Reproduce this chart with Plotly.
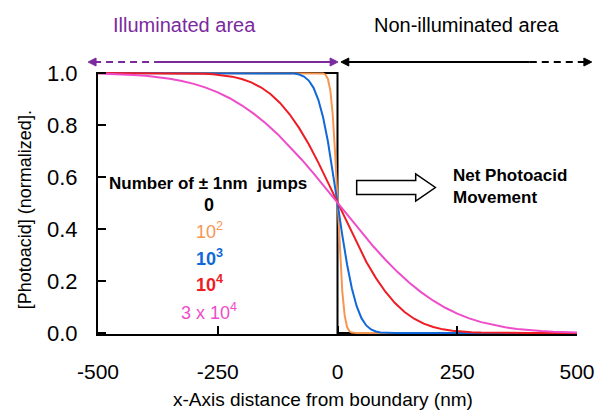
import plotly.graph_objects as go

# ---------------- data ----------------
step_x = [-500, 0, 0, 500]
step_y = [1.0, 1.0, 0.0, 0.0]

orange_x = [-500, -40, -30, -25, -20, -15, -10, -5, 0, 5, 10, 15, 20, 25, 30, 40, 500]
orange_y = [1.0, 1.0, 0.9987, 0.9938, 0.9772, 0.9332, 0.8413, 0.6915, 0.5,
            0.3085, 0.1587, 0.0668, 0.0228, 0.0062, 0.0013, 0.0, 0.0]

blue_x = [-500, -150, -120, -100, -90, -80, -70, -60, -50, -40, -30, -20, -10, 0,
          10, 20, 30, 40, 50, 60, 70, 80, 90, 100, 120, 150, 500]
blue_y = [1.0, 1.0, 0.9999, 0.9992, 0.9978, 0.9943, 0.9866, 0.9711, 0.9431, 0.8970,
          0.8286, 0.7365, 0.6241, 0.5,
          0.3759, 0.2635, 0.1714, 0.1030, 0.0569, 0.0289, 0.0134, 0.0057, 0.0022,
          0.0008, 0.0001, 0.0, 0.0]

red_x = [-500, -400, -340, -300, -280, -260, -240, -220, -200, -180, -160, -140, -120,
         -100, -80, -60, -40, -20, 0, 20, 40, 60, 80, 100, 120, 140, 160, 180, 200,
         220, 240, 260, 280, 300, 340, 400, 500]
red_y = [1.0, 1.0, 0.9997, 0.9987, 0.9974, 0.9953, 0.9918, 0.9861, 0.9772, 0.9641,
         0.9452, 0.9192, 0.8849, 0.8413, 0.7881, 0.7257, 0.6554, 0.5793, 0.5,
         0.4207, 0.3446, 0.2743, 0.2119, 0.1587, 0.1151, 0.0808, 0.0548, 0.0359,
         0.0228, 0.0139, 0.0082, 0.0047, 0.0026, 0.0013, 0.0003, 0.0, 0.0]

pink_x = [-500, -475, -450, -425, -400, -375, -350, -325, -300, -275, -250, -225,
          -200, -175, -150, -125, -100, -75, -50, -25, 0, 25, 50, 75, 100, 125, 150,
          175, 200, 225, 250, 275, 300, 325, 350, 375, 400, 425, 450, 475, 500]
pink_y = [0.9981, 0.9970, 0.9953, 0.9929, 0.9895, 0.9848, 0.9783, 0.9697, 0.9584,
          0.9438, 0.9255, 0.9030, 0.8759, 0.8438, 0.8068, 0.7648, 0.7181, 0.6675,
          0.6136, 0.5574, 0.5, 0.4426, 0.3864, 0.3325, 0.2819, 0.2352, 0.1932,
          0.1562, 0.1241, 0.0970, 0.0745, 0.0562, 0.0416, 0.0303, 0.0217, 0.0152,
          0.0105, 0.0071, 0.0047, 0.0030, 0.0019]

x_ticks = [-500, -250, 0, 250, 500]
y_ticks = [0.0, 0.2, 0.4, 0.6, 0.8, 1.0]

legend_title = "<b>Number of ± 1nm  jumps</b>"
legend_labels = ["<b>0</b>", "10<sup>2</sup>", "<b>10<sup>3</sup></b>",
                 "<b>10<sup>4</sup></b>", "3 x 10<sup>4</sup>"]

# ---------------- styling ----------------
BLACK = "#000000"
ORANGE = "#F79650"
BLUE = "#1168D8"
RED = "#EE1C24"
PINK = "#EE4CC8"
PURPLE = "#7B2A9E"
FONT = "Arial, Liberation Sans, sans-serif"
legend_colors = [BLACK, ORANGE, BLUE, RED, PINK]

OFF = 8  # page body margin in the browser
W, H = 599, 402
L, R, T, B = 90, 22, 64, 76
PW, PH = W - L - R, H - T - B


def px(x):
    """window pixel x -> paper x"""
    return (x - OFF - L) / PW


def py(y):
    """window pixel y -> paper y"""
    return (H - B - (y - OFF)) / PH


fig = go.Figure()
for xs, ys, c in [(step_x, step_y, BLACK), (orange_x, orange_y, ORANGE),
                  (blue_x, blue_y, BLUE), (red_x, red_y, RED), (pink_x, pink_y, PINK)]:
    fig.add_trace(go.Scatter(x=xs, y=ys, mode="lines",
                             line=dict(color=c, width=2), showlegend=False,
                             hoverinfo="skip"))

shapes = []
annotations = []

# top arrows
ya = py(62)
shapes.append(dict(type="line", xref="paper", yref="paper", x0=px(94), x1=px(155),
                   y0=ya, y1=ya, line=dict(color=PURPLE, width=2, dash="7px,5px")))
shapes.append(dict(type="line", xref="paper", yref="paper", x0=px(155), x1=px(336),
                   y0=ya, y1=ya, line=dict(color=PURPLE, width=2)))
shapes.append(dict(type="line", xref="paper", yref="paper", x0=px(350), x1=px(537),
                   y0=ya, y1=ya, line=dict(color=BLACK, width=2)))
shapes.append(dict(type="line", xref="paper", yref="paper", x0=px(537), x1=px(594),
                   y0=ya, y1=ya, line=dict(color=BLACK, width=2, dash="7px,5px")))


def tri(tip_x, tip_y, direction, color):
    back = tip_x - 8 * direction
    return dict(type="path", xref="paper", yref="paper",
                path=f"M {px(tip_x)} {py(tip_y)} L {px(back)} {py(tip_y - 4)} "
                     f"L {px(back)} {py(tip_y + 4)} Z",
                fillcolor=color, line=dict(color=color, width=1))


shapes.append(tri(88, 62, -1, PURPLE))
shapes.append(tri(342, 62, 1, PURPLE))
shapes.append(tri(345, 62, -1, BLACK))
shapes.append(tri(600, 62, 1, BLACK))

# block arrow (net movement)
pts = [(361, 180.5), (421, 180.5), (421, 174), (441, 187.5), (421, 201),
       (421, 194.5), (361, 194.5)]
path = "M " + " L ".join(f"{px(a)} {py(b)}" for a, b in pts) + " Z"
shapes.append(dict(type="path", xref="paper", yref="paper", path=path,
                   fillcolor="white", line=dict(color=BLACK, width=1.5)))

annotations.append(dict(text="Illuminated area", x=px(186), y=py(25), xref="paper",
                        yref="paper", showarrow=False, xanchor="center", yanchor="middle",
                        font=dict(family=FONT, size=20, color=PURPLE)))
annotations.append(dict(text="Non-illuminated area", x=px(473), y=py(25), xref="paper",
                        yref="paper", showarrow=False, xanchor="center", yanchor="middle",
                        font=dict(family=FONT, size=20, color=BLACK)))
annotations.append(dict(text="<b>Net Photoacid<br>Movement</b>", x=px(457), y=py(186),
                        xref="paper", yref="paper", showarrow=False, xanchor="left",
                        yanchor="middle", align="left",
                        font=dict(family=FONT, size=17, color=BLACK)))
annotations.append(dict(text=legend_title, x=px(210), y=py(183), xref="paper",
                        yref="paper", showarrow=False, xanchor="center", yanchor="middle",
                        font=dict(family=FONT, size=17, color=BLACK)))
for lab, c, yy in zip(legend_labels, legend_colors, [205, 230, 257, 283, 311]):
    annotations.append(dict(text=lab, x=px(211), y=py(yy), xref="paper", yref="paper",
                            showarrow=False, xanchor="center", yanchor="middle",
                            font=dict(family=FONT, size=18, color=c)))
annotations.append(dict(text="x-Axis distance from boundary (nm)", x=px(327), y=py(400),
                        xref="paper", yref="paper", showarrow=False, xanchor="center",
                        yanchor="middle", font=dict(family=FONT, size=19, color=BLACK)))
annotations.append(dict(text="[Photoacid] (normalized].", x=px(24), y=py(210),
                        xref="paper", yref="paper", showarrow=False, xanchor="center",
                        yanchor="middle", textangle=-90,
                        font=dict(family=FONT, size=18, color=BLACK)))

fig.update_layout(
    width=W, height=H, autosize=False,
    margin=dict(l=L, r=R, t=T, b=B, pad=0),
    paper_bgcolor="white", plot_bgcolor="white",
    showlegend=False, shapes=shapes, annotations=annotations,
    font=dict(family=FONT, color=BLACK),
    xaxis=dict(range=[-500, 500], tickvals=x_ticks, ticktext=[str(v) for v in x_ticks],
               ticks="inside", ticklen=8, tickwidth=2, tickcolor=BLACK,
               showline=True, linecolor=BLACK, linewidth=2, showgrid=False,
               zeroline=False, tickfont=dict(family=FONT, size=21, color=BLACK),
               ticklabelstandoff=18),
    yaxis=dict(range=[-0.004, 1.004], tickvals=y_ticks,
               ticktext=[f"{v:.1f}" for v in y_ticks],
               ticks="inside", ticklen=8, tickwidth=2, tickcolor=BLACK,
               showline=True, linecolor=BLACK, linewidth=2, showgrid=False,
               zeroline=False, tickfont=dict(family=FONT, size=22, color=BLACK),
               ticklabelstandoff=14),
)

fig.write_html("out.html")
